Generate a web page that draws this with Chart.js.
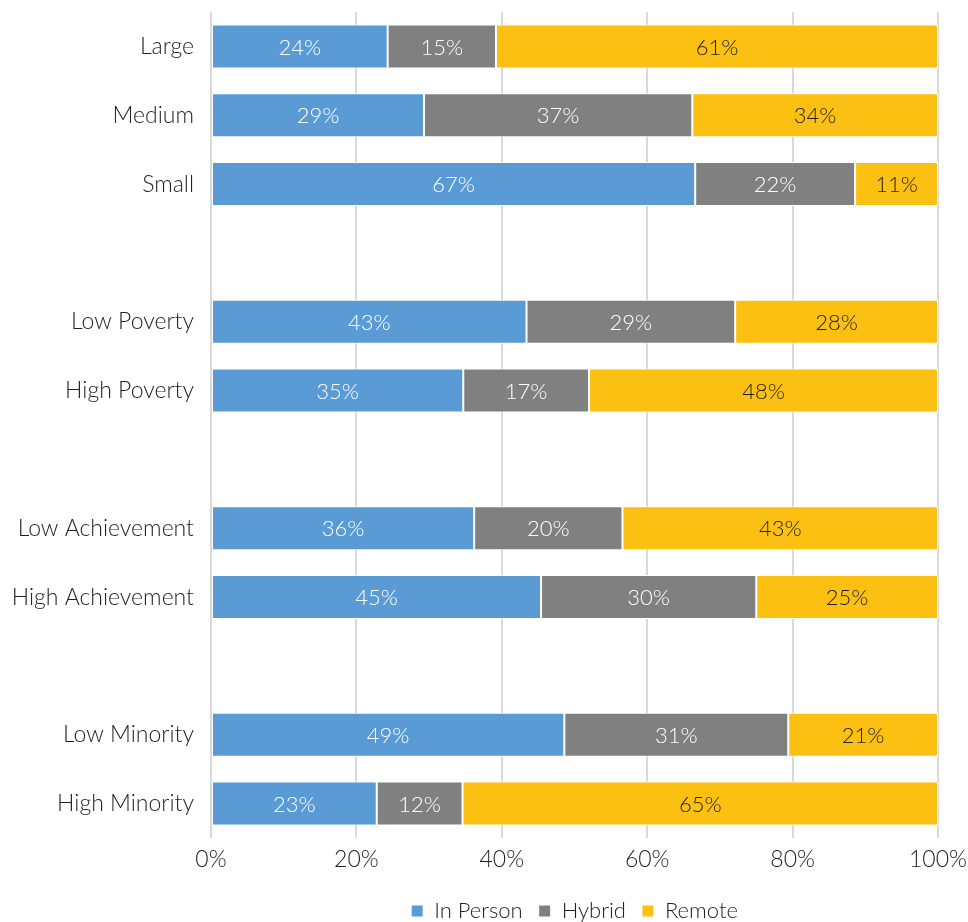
<!DOCTYPE html>
<html>
<head>
<meta charset="utf-8">
<script src="https://cdn.jsdelivr.net/npm/chart.js@4/dist/chart.umd.min.js"></script>
<style>
  html, body { margin: 0; padding: 0; background: #fff; }
  #wrap { width: 968px; height: 922px; }
</style>
</head>
<body>
<div id="wrap"><canvas id="chart"></canvas></div>
<script>
// categories (empty strings are the spacer rows between groups)
const categories = ["Large", "Medium", "Small", "", "Low Poverty", "High Poverty", "",
  "Low Achievement", "High Achievement", "", "Low Minority", "High Minority"];

// shares in percent
const inPerson = [24.3, 29.3, 66.6, null, 43.4, 34.7, null, 36.2, 45.4, null, 48.6, 22.8];
const hybrid   = [14.9, 36.9, 22.0, null, 28.7, 17.3, null, 20.4, 29.6, null, 30.8, 11.8];
const remote   = [60.8, 33.8, 11.4, null, 27.9, 48.0, null, 43.4, 25.0, null, 20.6, 65.4];

const xTicks = [0, 20, 40, 60, 80, 100];

const FONT = "Lato, 'Open Sans', sans-serif";
const TEXT = "#1f1f1f";

// draws the rounded % label in the middle of each segment
const segmentLabels = {
  id: "segmentLabels",
  afterDatasetsDraw(chart) {
    const ctx = chart.ctx;
    ctx.save();
    ctx.font = `300 22px ${FONT}`;
    ctx.textAlign = "center";
    ctx.textBaseline = "middle";
    chart.data.datasets.forEach((ds, i) => {
      const meta = chart.getDatasetMeta(i);
      meta.data.forEach((bar, j) => {
        const v = ds.data[j];
        if (v == null) return;
        ctx.fillStyle = i === 2 ? "#1f1f1f" : "#ffffff";
        ctx.fillText(Math.round(v) + "%", (bar.x + bar.base) / 2, bar.y + 1);
      });
    });
    ctx.restore();
  }
};

new Chart(document.getElementById("chart"), {
  type: "bar",
  data: {
    labels: categories,
    datasets: [
      { label: "In Person", data: inPerson, backgroundColor: "#5B9BD5" },
      { label: "Hybrid", data: hybrid, backgroundColor: "#808080" },
      { label: "Remote", data: remote, backgroundColor: "#FCC012" }
    ].map((d) => Object.assign(d, {
      borderColor: "#ffffff",
      borderWidth: 1,
      borderSkipped: false,
      categoryPercentage: 0.8,
      barPercentage: 0.8
    }))
  },
  options: {
    indexAxis: "y",
    responsive: true,
    maintainAspectRatio: false,
    animation: false,
    layout: { padding: { top: 12, right: 30, left: 8, bottom: -10 } },
    plugins: {
      tooltip: { enabled: false },
      legend: {
        position: "bottom",
        fullSize: false,
        labels: {
          boxWidth: 12,
          boxHeight: 12,
          padding: 16,
          color: TEXT,
          font: { family: FONT, size: 22, weight: 300 }
        }
      }
    },
    scales: {
      x: {
        stacked: true,
        min: 0,
        max: 100,
        afterBuildTicks: (axis) => { axis.ticks = xTicks.map((v) => ({ value: v })); },
        afterFit: (axis) => { axis.paddingLeft = 0; axis.paddingRight = 0; axis.height = 46; },
        grid: { color: "#D9D9D9", lineWidth: 2, drawTicks: true, tickLength: 0 },
        border: { display: false },
        ticks: {
          color: TEXT,
          padding: 8,
          font: { family: FONT, size: 23, weight: 300 },
          callback: (v) => v + "%"
        }
      },
      y: {
        stacked: true,
        afterFit: (axis) => { axis.paddingTop = 0; axis.paddingBottom = 0; axis.width = 203; },
        grid: { display: false },
        border: { display: false },
        ticks: {
          color: TEXT,
          padding: 9,
          font: { family: FONT, size: 23, weight: 300 }
        }
      }
    }
  },
  plugins: [segmentLabels]
});
</script>
</body>
</html>
